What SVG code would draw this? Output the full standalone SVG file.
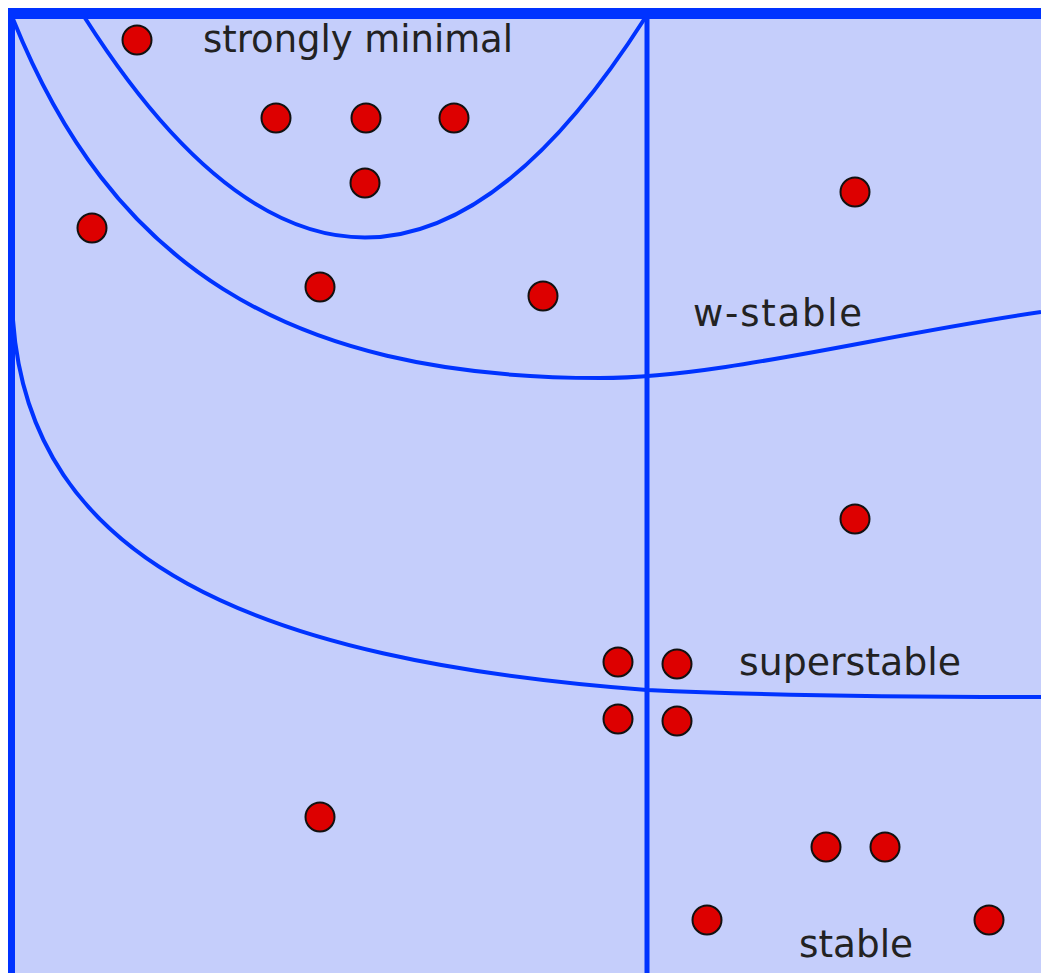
<svg xmlns="http://www.w3.org/2000/svg" width="1041" height="973" viewBox="0 0 1041 973">
  <style>
    .curve { fill: none; stroke: #0033ff; stroke-width: 4; }
    .dot { fill: #dd0000; stroke: #111111; stroke-width: 2; }
    .label { font-family: "DejaVu Sans", Verdana, sans-serif; font-size: 37px; fill: #222222; }
  </style>
  <rect x="0" y="0" width="1041" height="973" fill="#ffffff"/>
  <g id="frame">
    <rect x="8" y="8" width="1033" height="965" fill="#c5cefb"/>
    <rect x="8" y="8" width="1033" height="11" fill="#0033ff"/>
    <rect x="8" y="8" width="7" height="965" fill="#0033ff"/>
  </g>
  <g id="connectors">
    <path class="curve" d="M85,18 Q365,457 645,18"/>
    <path class="curve" d="M13,19 C110,260 280,378 600,378 C720,378 880,335 1041,312"/>
    <path class="curve" d="M13,320 C30,560 250,660 647,690 Q800,697 1041,697"/>
    <line x1="647" y1="18" x2="647" y2="973" stroke="#0033ff" stroke-width="5"/>
  </g>
  <g id="labels">
    <text id="label-strongly-minimal" class="label" x="203" y="52" textLength="310" lengthAdjust="spacingAndGlyphs">strongly minimal</text>
    <text id="label-w-stable" class="label" x="693" y="326" textLength="169" lengthAdjust="spacing">w-stable</text>
    <text id="label-superstable" class="label" x="739" y="675" textLength="222" lengthAdjust="spacingAndGlyphs">superstable</text>
    <text id="label-stable" class="label" x="799" y="957" textLength="114" lengthAdjust="spacingAndGlyphs">stable</text>
  </g>
  <g id="dots">
    <circle id="d1" class="dot" cx="137" cy="40" r="14.5"/>
    <circle id="d2" class="dot" cx="276" cy="118" r="14.5"/>
    <circle id="d3" class="dot" cx="366" cy="118" r="14.5"/>
    <circle id="d4" class="dot" cx="454" cy="118" r="14.5"/>
    <circle id="d5" class="dot" cx="365" cy="183" r="14.5"/>
    <circle id="d6" class="dot" cx="92" cy="228" r="14.5"/>
    <circle id="d7" class="dot" cx="320" cy="287" r="14.5"/>
    <circle id="d8" class="dot" cx="543" cy="296" r="14.5"/>
    <circle id="d9" class="dot" cx="855" cy="192" r="14.5"/>
    <circle id="d10" class="dot" cx="855" cy="519" r="14.5"/>
    <circle id="d11" class="dot" cx="618" cy="662" r="14.5"/>
    <circle id="d12" class="dot" cx="677" cy="664" r="14.5"/>
    <circle id="d13" class="dot" cx="618" cy="719" r="14.5"/>
    <circle id="d14" class="dot" cx="677" cy="721" r="14.5"/>
    <circle id="d15" class="dot" cx="320" cy="817" r="14.5"/>
    <circle id="d16" class="dot" cx="826" cy="847" r="14.5"/>
    <circle id="d17" class="dot" cx="885" cy="847" r="14.5"/>
    <circle id="d18" class="dot" cx="707" cy="920" r="14.5"/>
    <circle id="d19" class="dot" cx="989" cy="920" r="14.5"/>
  </g>
</svg>
